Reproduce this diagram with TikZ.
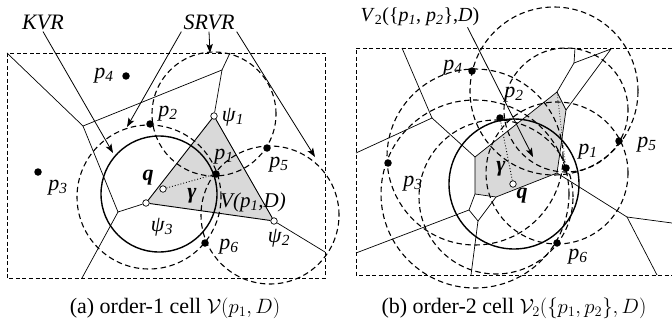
\documentclass[tikz,border=0pt]{standalone}
\usepackage[no-math]{fontspec}
\setmainfont{Liberation Serif}
\usepackage{tikz}
\usetikzlibrary{arrows.meta}
\newcommand{\siteLbl}[1]{\textit{p}\textsubscript{\textit{#1}}}
\newcommand{\psiLbl}[1]{\textit{ψ}\textsubscript{\textit{#1}}}

\begin{document}
\begin{tikzpicture}[x=1pt,y=-1pt,
    site/.style={circle,fill=black,inner sep=0pt,minimum size=7.5pt},
    vtx/.style={circle,draw=black,fill=white,line width=0.7pt,inner sep=0pt,minimum size=6.5pt},
    lbl/.style={inner sep=0pt,font=\fontsize{22}{26}\selectfont},
    caplbl/.style={inner sep=0pt,font=\fontsize{22}{26}\selectfont},
    vor/.style={line width=0.7pt},
    celledge/.style={line width=0.9pt},
    cellfill/.style={fill=black!15},
    srvr/.style={line width=1.1pt,dash pattern=on 5.5pt off 3.5pt},
    kvrline/.style={line width=1.4pt},
    boxline/.style={line width=0.8pt,dash pattern=on 4pt off 2.5pt},
    arr/.style={line width=0.8pt,-{Stealth[length=9pt,width=6.5pt,inset=2pt]}}]
  \useasboundingbox (0,0) rectangle (672,329);

  % ---------- (a) order-1 cell ----------
  \draw[boxline] (7,53) rectangle (325,278);
  \coordinate (a1) at (214,116);
  \coordinate (a2) at (274,221);
  \coordinate (a3) at (146,203);
  \fill[cellfill] (a1) -- (a2) -- (a3) -- cycle;
  % safe region circles
  \coordinate (ka) at (159,194);
  \coordinate (sa1) at (214,114);
  \coordinate (sa2) at (270,215);
  \coordinate (sa3) at (149,197);
  \draw[srvr] (sa1) circle[radius=62pt];
  \draw[srvr] (sa2) circle[radius=69pt];
  \draw[srvr] (sa3) circle[radius=72pt];
  \draw[kvrline] (ka) circle[radius=58pt];
  % Voronoi edges
  \coordinate (va1) at (83,126);
  \coordinate (va2) at (222,70);
  \coordinate (va3) at (118,212);
  \coordinate (ea1) at (7,53);
  \coordinate (ea2) at (230,53);
  \coordinate (ea3) at (82,278);
  \coordinate (ea4) at (325,252);
  \node[vtx] (psi1) at (a1) {};
  \node[vtx] (psi2) at (a2) {};
  \node[vtx] (psi3) at (a3) {};
  \draw[vor] (ea1) -- (va1) -- (va2) -- (ea2);
  \draw[vor] (va2) -- (psi1);
  \draw[vor] (va1) -- (va3) -- (psi3);
  \draw[vor] (va3) -- (ea3);
  \draw[vor] (psi2) -- (ea4);
  \draw[celledge] (psi1) -- (psi2) -- (psi3) -- (psi1);
  % sites and query
  \node[site] (pa1) at (216,174) {};
  \node[site] (pa2) at (150,124) {};
  \node[site] (pa3) at (38,172) {};
  \node[site] (pa4) at (126,76) {};
  \node[site] (pa5) at (267,148) {};
  \node[site] (pa6) at (205,243) {};
  \node[vtx] (qa) at (163,189) {};
  \draw[dotted,line width=0.9pt] (qa) -- (pa1);
  % labels
  \node[lbl] (lpa1) at (224,157) {\siteLbl{1}};
  \node[lbl] (lpa2) at (168,114) {\siteLbl{2}};
  \node[lbl] (lpa3) at (58,188) {\siteLbl{3}};
  \node[lbl] (lpa4) at (104,76) {\siteLbl{4}};
  \node[lbl] (lpa5) at (279,165) {\siteLbl{5}};
  \node[lbl] (lpa6) at (229,247) {\siteLbl{6}};
  \node[lbl] (lpsi1) at (233,117) {\psiLbl{1}};
  \node[lbl] (lpsi2) at (279,238) {\psiLbl{2}};
  \node[lbl] (lpsi3) at (162,227) {\psiLbl{3}};
  \node[lbl] (lqa) at (148,178) {\textbf{\textit{q}}};
  \node[lbl] (lga) at (192,196) {\textbf{\textit{γ}}};
  \node[lbl,font=\fontsize{21}{25}\selectfont] (lcella) at (253,202) {\textit{V(p\textsubscript{1},D)}};
  % KVR / SRVR pointers
  \node[lbl,inner sep=2pt] (kvr) at (43,22) {\textit{KVR}};
  \node[lbl,inner sep=2pt] (srvr) at (209,22) {\textit{SRVR}};
  \coordinate (kvrTip) at (113,153);
  \coordinate (srvrTip1) at (127,127);
  \coordinate (srvrTip2) at (210,53);
  \coordinate (srvrTip3) at (315,157);
  \draw[arr] (kvr.south) -- (kvrTip);
  \draw[arr] (srvr.south west) -- (srvrTip1);
  \draw[arr] (srvr.south) -- (srvrTip2);
  \draw[arr] (srvr.south east) -- (srvrTip3);

  % ---------- (b) order-2 cell ----------
  \draw[boxline] (672,48) -- (356,48) -- (356,275) -- (672,275);
  \coordinate (b1) at (475,157);
  \coordinate (b2) at (475,194);
  \coordinate (b3) at (496,197);
  \coordinate (b4) at (557,173);
  \coordinate (b5) at (566,110);
  \coordinate (b6) at (557,92);
  \fill[cellfill] (b1) -- (b2) -- (b3) -- (b4) -- (b5) -- (b6) -- cycle;
  % safe region circles
  \coordinate (kb) at (514,184);
  \coordinate (sb6) at (554,91);
  \draw[srvr] (b1) circle[radius=88pt];
  \draw[srvr] (b2) circle[radius=94pt];
  \draw[srvr] (b3) circle[radius=77pt];
  \draw[srvr] (b4) circle[radius=71pt];
  \draw[srvr] (b5) circle[radius=62pt];
  \draw[srvr] (sb6) circle[radius=84pt];
  \draw[kvrline] (kb) circle[radius=65pt];
  % Voronoi edges
  \coordinate (vb1) at (432,118);
  \coordinate (vb2) at (469,210);
  \coordinate (vb3) at (478,221);
  \coordinate (vb4) at (627,217);
  \coordinate (vb5) at (574,63);
  \coordinate (vb6) at (611,49);
  \coordinate (eb1) at (402,48);
  \coordinate (eb2) at (356,153);
  \coordinate (eb3) at (356,253);
  \coordinate (eb4) at (471,275);
  \coordinate (eb5) at (672,223);
  \coordinate (eb6) at (657,275);
  \coordinate (eb7) at (575,48);
  \draw[vor] (b1) -- (b2) -- (b3) -- (b4) -- (b5) -- (b6) -- cycle;
  \draw[vor] (eb1) -- (vb1) -- (eb2);
  \draw[vor] (vb1) -- (b1);
  \draw[vor] (b2) -- (vb2) -- (vb3) -- (b3);
  \draw[vor] (vb2) -- (eb3);
  \draw[vor] (vb3) -- (eb4);
  \draw[vor] (b4) -- (vb4) -- (eb5);
  \draw[vor] (vb4) -- (eb6);
  \draw[vor] (b6) -- (vb5) -- (eb7);
  \draw[vor] (vb5) -- (vb6) -- (b5);
  % sites and query
  \node[site] (pb1) at (566,168) {};
  \node[site] (pb2) at (500,118) {};
  \node[site] (pb3) at (388,163) {};
  \node[site] (pb4) at (472,71) {};
  \node[site] (pb5) at (619,141) {};
  \node[site] (pb6) at (557,243) {};
  \node[vtx] (qb) at (513,184) {};
  \draw[dotted,line width=0.9pt] (qb) -- (pb2);
  \draw[dotted,line width=0.7pt] (b6) -- (pb1);
  % labels
  \node[lbl] (lpb1) at (588,152) {\siteLbl{1}};
  \node[lbl] (lpb2) at (514,95) {\siteLbl{2}};
  \node[lbl] (lpb3) at (413,184) {\siteLbl{3}};
  \node[lbl] (lpb4) at (453,68) {\siteLbl{4}};
  \node[lbl] (lpb5) at (647,145) {\siteLbl{5}};
  \node[lbl] (lpb6) at (578,257) {\siteLbl{6}};
  \node[lbl] (lqb) at (522,196) {\textbf{\textit{q}}};
  \node[lbl] (lgb) at (501,169) {\textbf{\textit{γ}}};
  \node[lbl,inner sep=1pt,font=\fontsize{20}{24}\selectfont] (v2lbl) at (420,17) {\textit{V}\textsubscript{2}(\{\siteLbl{1}, \siteLbl{2}\},\textit{D})};
  \coordinate (v2Tip) at (533,157);
  \draw[arr] ([xshift=-13pt]v2lbl.south east) -- (v2Tip);

  % captions
  \node[caplbl] (capa) at (175,308) {(a) order-1 cell $\mathcal{V}(p_1, D)$};
  \node[caplbl] (capb) at (514,308) {(b) order-2 cell $\mathcal{V}_2(\{p_1, p_2\}, D)$};
\end{tikzpicture}
\end{document}
